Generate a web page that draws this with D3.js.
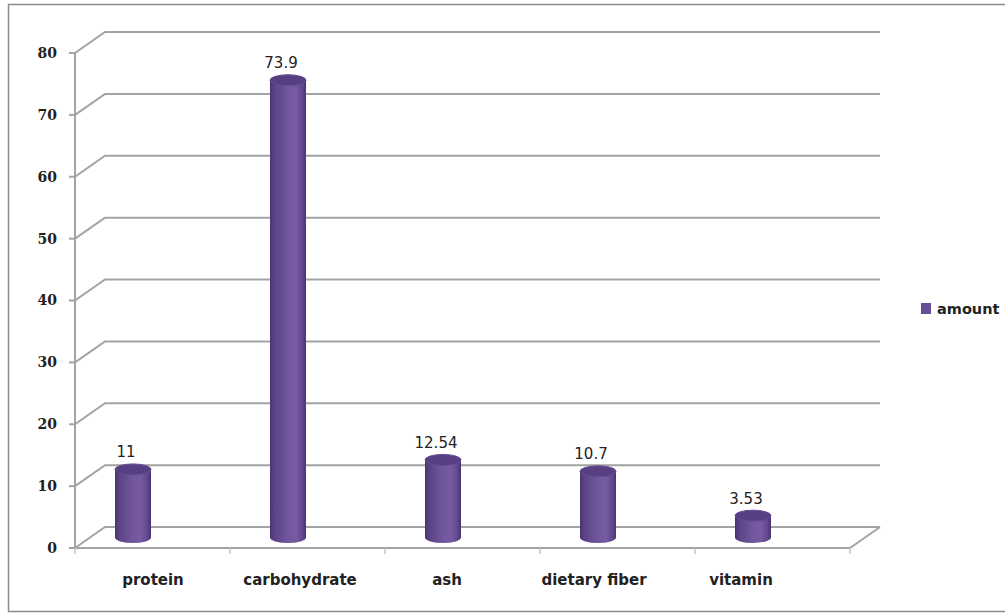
<!DOCTYPE html>
<html>
<head>
<meta charset="utf-8">
<script src="https://cdn.jsdelivr.net/npm/d3@7"></script>
<style>
  body { margin: 0; background: #fff; }
  text { font-family: 'DejaVu Sans', sans-serif; }
</style>
</head>
<body>
<div id="chart"></div>
<script>
const categories = ['protein', 'carbohydrate', 'ash', 'dietary fiber', 'vitamin']
const amounts = [11, 73.9, 12.54, 10.7, 3.53]
const valueLabels = ['11', '73.9', '12.54', '10.7', '3.53']
const yTicks = [0, 10, 20, 30, 40, 50, 60, 70, 80]
const seriesName = 'amount'

const width = 1005
const height = 614
const depth = {dx: 30, dy: -21}

const svg = d3.select('#chart').append('svg')
  .attr('width', width)
  .attr('height', height)

// outer frame
svg.append('rect')
  .attr('x', 8.5).attr('y', 4.5)
  .attr('width', 1010).attr('height', 607)
  .attr('fill', 'none')
  .attr('stroke', '#8c8c8c')
  .attr('stroke-width', 1.5)

const y = d3.scaleLinear().domain([0, 80]).range([548, 53])
const x = d3.scaleBand().domain(categories).range([75, 850])
const xLabel = d3.scalePoint().domain(categories).range([153, 741])

const defs = svg.append('defs')
const grad = defs.append('linearGradient').attr('id', 'cyl')
  .attr('x1', '0%').attr('x2', '100%').attr('y1', '0%').attr('y2', '0%')
grad.selectAll('stop')
  .data([[0, '#4a336e'], [0.12, '#5c4386'], [0.5, '#71579d'], [0.72, '#765ba2'], [0.9, '#61478d'], [1, '#4b3470']])
  .join('stop')
  .attr('offset', d => d[0])
  .attr('stop-color', d => d[1])

const gridColor = '#a3a3a3'

// back grid lines with diagonal to front axis
const grid = svg.append('g').attr('fill', 'none').attr('stroke', gridColor).attr('stroke-width', 2)
yTicks.forEach(t => {
  const yy = y(t)
  grid.append('path')
    .attr('d', `M${75},${yy} L${75 + depth.dx},${yy + depth.dy} L${880},${yy + depth.dy}`)
})
// floor front and right side
grid.append('path')
  .attr('d', `M75,${y(0)} L850,${y(0)} L880,${y(0) + depth.dy}`)

// front y axis
svg.append('line')
  .attr('x1', 75).attr('x2', 75)
  .attr('y1', y(80)).attr('y2', y(0) + 1)
  .attr('stroke', gridColor).attr('stroke-width', 2)

const yAxis = svg.append('g')
yAxis.selectAll('line.tick')
  .data(yTicks)
  .join('line')
  .attr('class', 'tick')
  .attr('x1', 69).attr('x2', 75)
  .attr('y1', d => y(d)).attr('y2', d => y(d))
  .attr('stroke', gridColor).attr('stroke-width', 2)
yAxis.selectAll('text')
  .data(yTicks)
  .join('text')
  .attr('x', 57)
  .attr('y', d => y(d))
  .attr('dy', '0.35em')
  .attr('text-anchor', 'end')
  .style('font-family', "'DejaVu Serif', serif")
  .style('font-weight', 'bold')
  .style('font-size', '14px')
  .attr('fill', '#222')
  .text(d => d)

// category tick marks below floor
svg.append('g').selectAll('line')
  .data(categories.concat(['end']))
  .join('line')
  .attr('x1', (d, i) => i < categories.length ? x(d) : x.range()[1])
  .attr('x2', (d, i) => i < categories.length ? x(d) : x.range()[1])
  .attr('y1', y(0)).attr('y2', y(0) + 6)
  .attr('stroke', '#c4c4c4').attr('stroke-width', 1.5)

// category labels
svg.append('g').selectAll('text')
  .data(categories)
  .join('text')
  .attr('x', d => xLabel(d))
  .attr('y', 585)
  .attr('text-anchor', 'middle')
  .style('font-size', '15px')
  .style('font-weight', 'bold')
  .attr('fill', '#222')
  .text(d => d)

// cylinders
const rx = 18
const ry = 5.5
const bars = svg.append('g').selectAll('g')
  .data(categories.map((c, i) => ({c, v: amounts[i], label: valueLabels[i]})))
  .join('g')
  .attr('transform', d => `translate(${x(d.c) + x.bandwidth() / 2 - 19.5},0)`)

bars.append('path')
  .attr('d', d => {
    const top = y(d.v) + depth.dy / 2
    const bot = y(0) + depth.dy / 2
    return `M${-rx},${top} L${-rx},${bot} A${rx},${ry} 0 0 0 ${rx},${bot} L${rx},${top} Z`
  })
  .attr('fill', 'url(#cyl)')

bars.append('ellipse')
  .attr('cx', 0)
  .attr('cy', d => y(d.v) + depth.dy / 2)
  .attr('rx', rx).attr('ry', ry)
  .attr('fill', '#583f84')
  .attr('stroke', '#654c93')
  .attr('stroke-width', 1)

bars.append('text')
  .attr('x', -7)
  .attr('y', d => y(d.v) + depth.dy / 2 - 12)
  .attr('text-anchor', 'middle')
  .style('font-size', '15px')
  .attr('fill', '#222')
  .text(d => d.label)

// legend
const legend = svg.append('g').attr('transform', 'translate(921,303)')
legend.append('rect')
  .attr('width', 10).attr('height', 11)
  .attr('fill', '#6a4f98')
legend.append('text')
  .attr('x', 16).attr('y', 6)
  .attr('dy', '0.35em')
  .style('font-size', '14.5px')
  .style('font-weight', 'bold')
  .attr('fill', '#222')
  .text(seriesName)
</script>
</body>
</html>
